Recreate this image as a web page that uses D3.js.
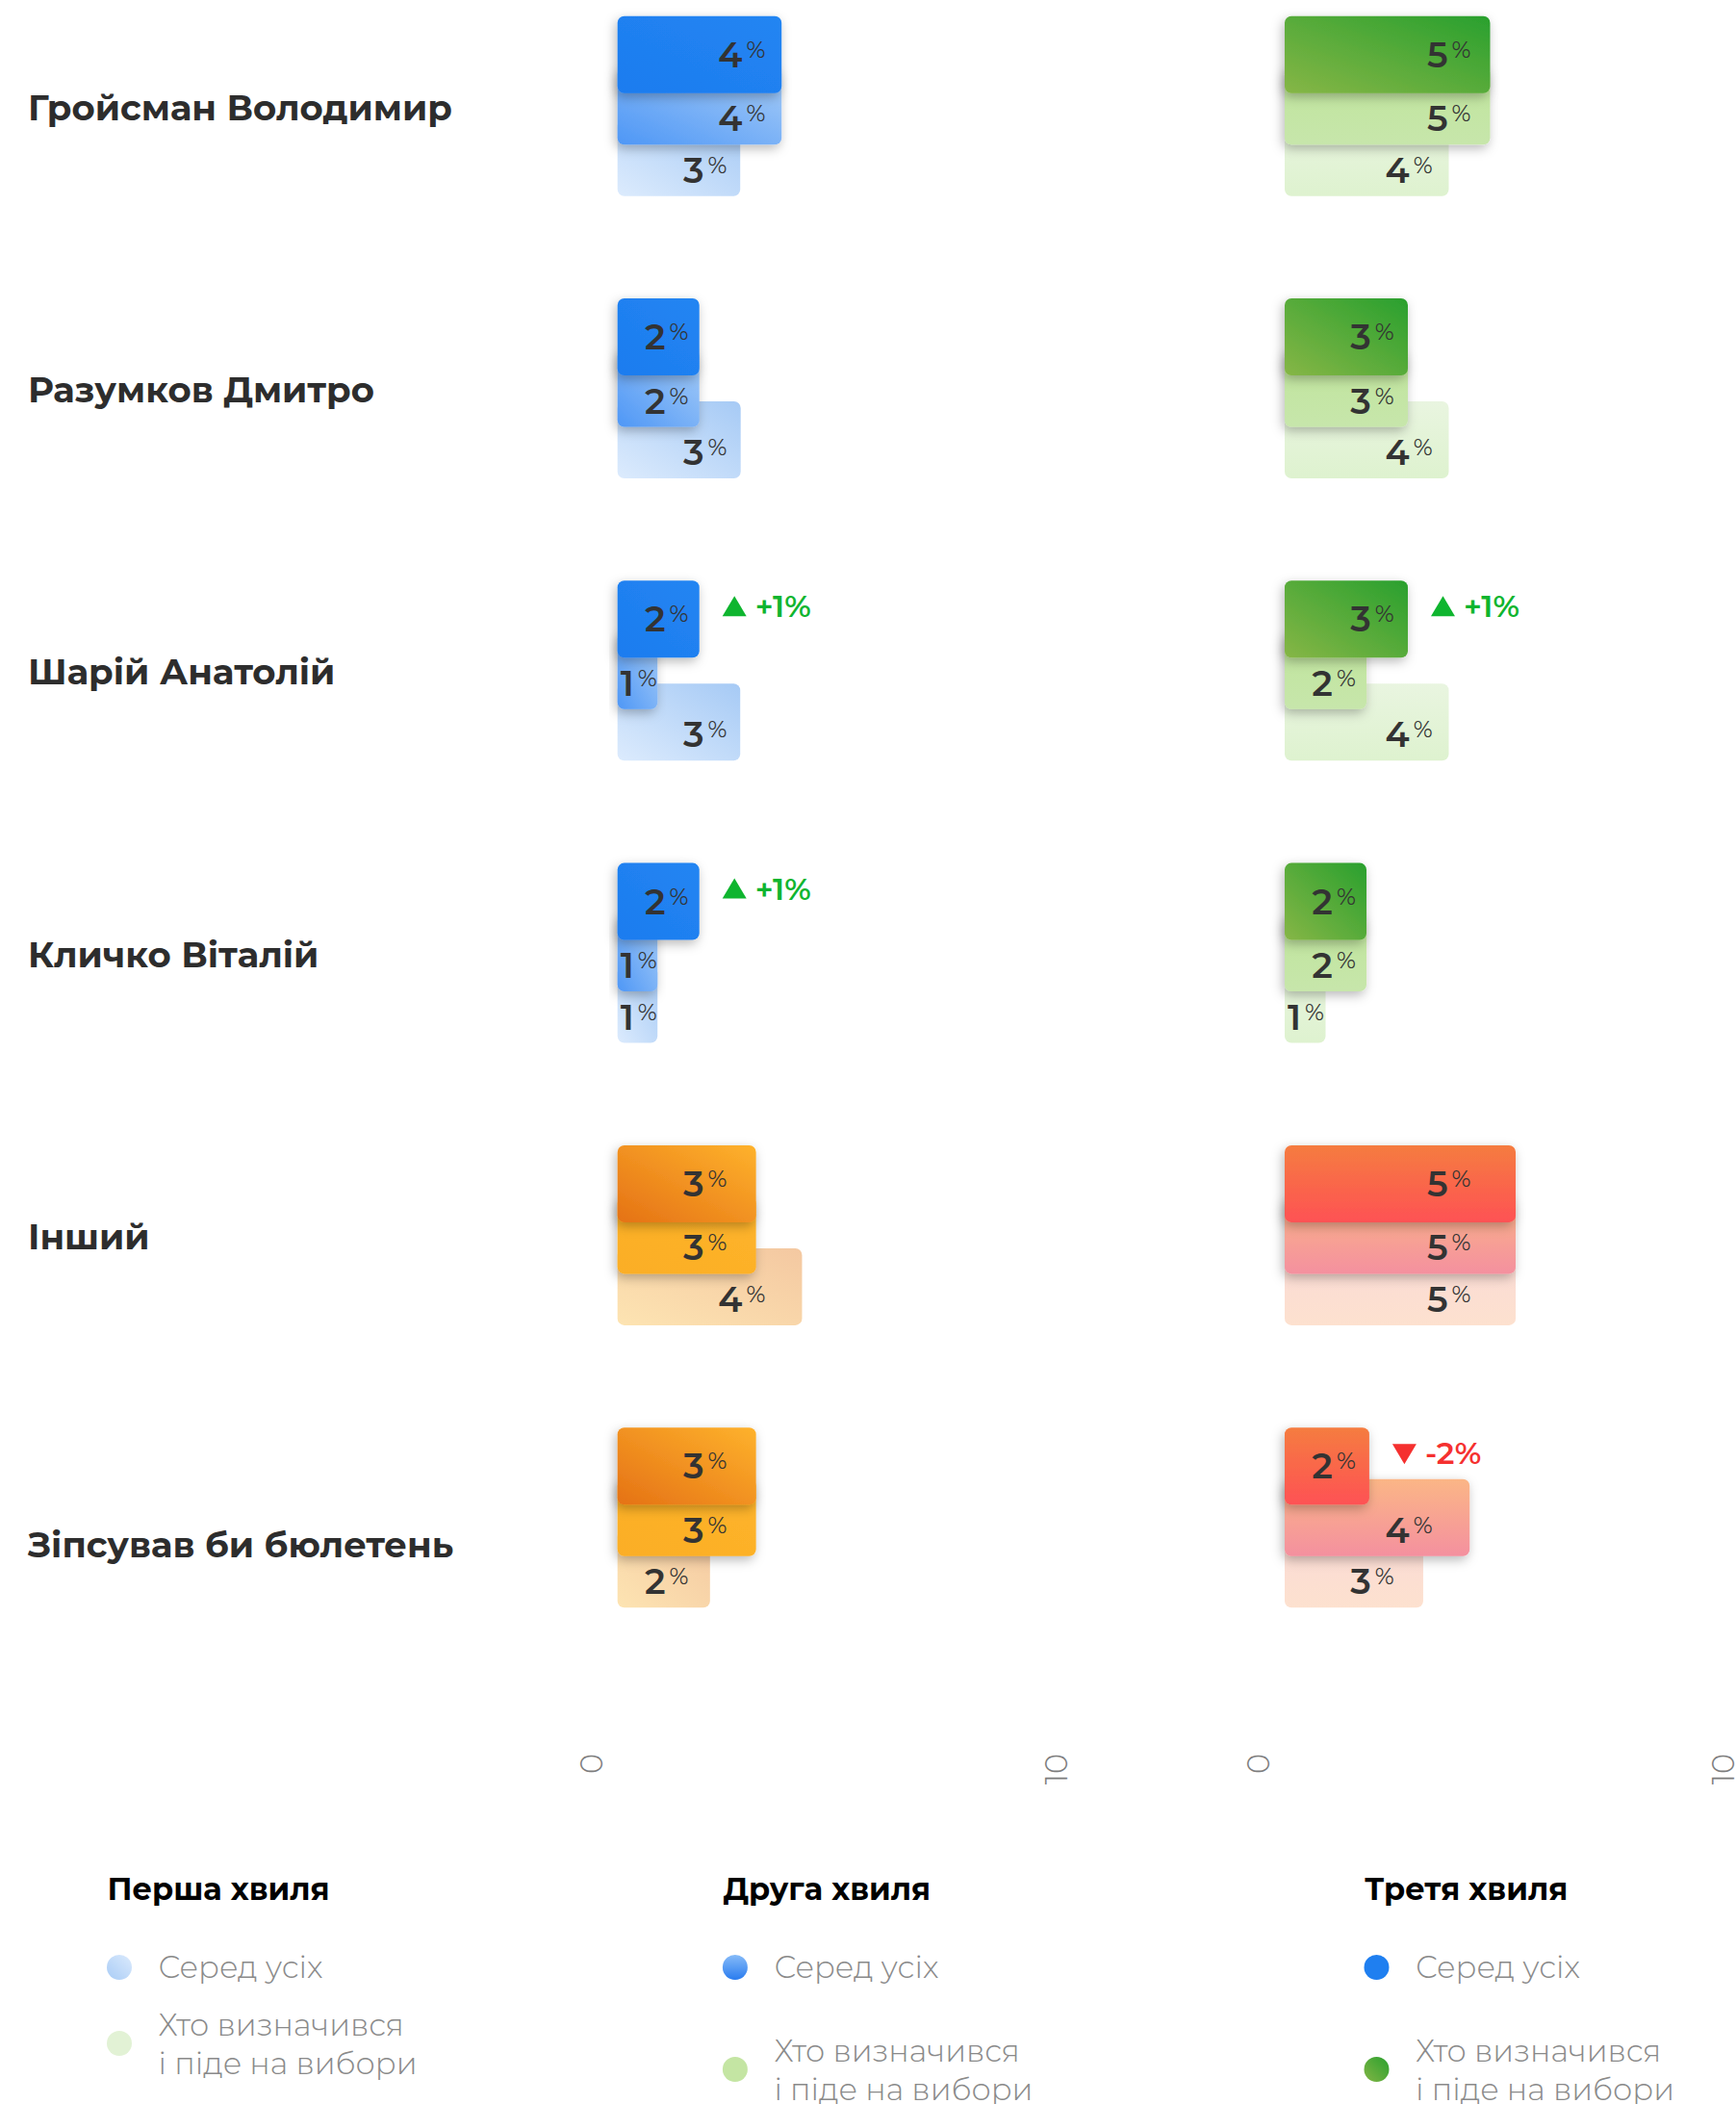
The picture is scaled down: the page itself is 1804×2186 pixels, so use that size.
<!DOCTYPE html>
<html><head><meta charset="utf-8">
<script src="https://cdn.jsdelivr.net/npm/d3@7"></script>
<style>
html,body{margin:0;padding:0;background:#fff;}
svg{display:block;}
</style></head>
<body>
<svg id="chart" width="1804" height="2186"></svg>
<script>
// ---------- DATA ----------
const categories = ["Гройсман Володимир","Разумков Дмитро","Шарій Анатолій","Кличко Віталій","Інший","Зіпсував би бюлетень"];
const categoryKind = ["candidate","candidate","candidate","candidate","other","other"];
const waves = ["Перша хвиля","Друга хвиля","Третя хвиля"];
// Panel 1: "Серед усіх" (bar lengths, %)
const allWave1 = [2.64, 2.65, 2.64, 0.86, 3.97, 1.99];
const allWave2 = [3.53, 1.76, 0.86, 0.86, 2.98, 2.98];
const allWave3 = [3.53, 1.76, 1.76, 1.76, 2.98, 2.98];
// printed labels, %
const allLabel1 = [3, 3, 3, 1, 4, 2];
const allLabel2 = [4, 2, 1, 1, 3, 3];
const allLabel3 = [4, 2, 2, 2, 3, 3];
// Panel 2: "Хто визначився і піде на вибори"
const decWave1 = [3.53, 3.53, 3.53, 0.88, 4.97, 2.98];
const decWave2 = [4.42, 2.65, 1.76, 1.76, 4.97, 3.98];
const decWave3 = [4.42, 2.65, 2.65, 1.76, 4.97, 1.82];
const decLabel1 = [4, 4, 4, 1, 5, 3];
const decLabel2 = [5, 3, 2, 2, 5, 4];
const decLabel3 = [5, 3, 3, 2, 5, 2];
const axisTicks = [0, 10];
const legendItems = ["Серед усіх", "Хто визначився\nі піде на вибори"];

// ---------- STYLE ----------
const svg = d3.select("#chart");
const defs = svg.append("defs");
const grads = {
  blue3:  {dir:"diag", stops:["#1d7cef","#2285f2"]},
  blue2:  {dir:"diag", stops:["#4e97f6","#a8cdf7"]},
  blue1:  {dir:"diag", stops:["#dcebfd","#a6caf5"]},
  green3: {dir:"diag", stops:["#86b646","#29a02e"]},
  green2: {dir:"v",    stops:["#bfe59b","#c7e6ab"]},
  green1: {dir:"v",    stops:["#e9f5e0","#def2cf"]},
  orange3:{dir:"diag", stops:["#e57215","#feb22c"]},
  orange2:{dir:"diag", stops:["#fbae25","#feb42b"]},
  orange1:{dir:"diag", stops:["#fde4b2","#f4c8a1"]},
  red3:   {dir:"v",    stops:["#f57c40","#fe5254"]},
  red2:   {dir:"v",    stops:["#fbb686","#f4909f"]},
  red1:   {dir:"v",    stops:["#fadad6","#fde1cf"]},
  legB2:  {dir:"v",    stops:["#86bbf8","#2a7cef"]},
  legB1:  {dir:"diag", stops:["#a9ccf6","#dbeafc"]},
  legG3:  {dir:"diag", stops:["#82b545","#2aa02e"]}
};
Object.entries(grads).forEach(([id, g]) => {
  const lg = defs.append("linearGradient").attr("id", id);
  if (g.dir === "diag") lg.attr("x1",0).attr("y1",1).attr("x2",1).attr("y2",0);
  else lg.attr("x1",0).attr("y1",0).attr("x2",0).attr("y2",1);
  lg.append("stop").attr("offset","0%").attr("stop-color", g.stops[0]);
  lg.append("stop").attr("offset","100%").attr("stop-color", g.stops[1]);
});
const f = defs.append("filter").attr("id","shadow").attr("x","-20%").attr("y","-30%").attr("width","140%").attr("height","180%");
f.append("feDropShadow").attr("dx",-2).attr("dy",4).attr("stdDeviation",6)
  .attr("flood-color","#000").attr("flood-opacity",0.28);

const numFont = "'Montserrat','Open Sans','Noto Sans',sans-serif";
const nameFont = "'Montserrat','DejaVu Sans',sans-serif";
const lightFont = "'Montserrat','Lato','Open Sans',sans-serif";

// ---------- SCALES ----------
const x = d3.scaleLinear().domain([0, 10]).range([0, 483]);
const xLabel = d3.scaleLinear().domain([0, 10]).range([-6, 393]);
const y = d3.scaleBand().domain(categories).range([16.7, 16.7 + 293.3 * categories.length]);
const barH = 80, step = 53.5, radius = 7;

// names
svg.append("g").selectAll("text").data(categories).join("text")
  .attr("x", 29)
  .attr("y", (d, i) => y(d) + 95 + (i === categories.length - 1 ? 27 : 0))
  .attr("dy", "0.35em")
  .attr("font-family", nameFont).attr("font-weight", 700).attr("font-size", 37)
  .attr("fill", "#2d2d2d")
  .text(d => d);

const panels = [
  {x0: 641.7, vals: [allWave1, allWave2, allWave3], labels: [allLabel1, allLabel2, allLabel3],
   pal: {candidate: ["blue1","blue2","blue3"], other: ["orange1","orange2","orange3"]}},
  {x0: 1335, vals: [decWave1, decWave2, decWave3], labels: [decLabel1, decLabel2, decLabel3],
   pal: {candidate: ["green1","green2","green3"], other: ["red1","red2","red3"]}}
];

panels.forEach(p => {
  const g = svg.append("g").attr("transform", `translate(${p.x0},0)`);
  categories.forEach((cat, ci) => {
    const top = y(cat);
    const cg = g.append("g");
    [0, 1, 2].forEach(wi => {
      const v = p.vals[wi][ci];
      const lab = p.labels[wi][ci];
      const by = top + (2 - wi) * step;
      cg.append("rect")
        .attr("x", x(0)).attr("y", by)
        .attr("width", x(v) - x(0)).attr("height", barH)
        .attr("rx", radius).attr("ry", radius)
        .attr("fill", `url(#${p.pal[categoryKind[ci]][wi]})`)
        .attr("filter", wi > 0 ? "url(#shadow)" : null);
      const cy = wi === 2 ? by + 40 : by + 53;
      const right = Math.max(xLabel(lab), 41);
      const t = cg.append("text")
        .attr("x", right).attr("y", cy + 13)
        .attr("text-anchor", "end")
        .attr("font-family", numFont).attr("fill", "#333");
      t.append("tspan").attr("font-size", 37).attr("font-weight", 600).text(lab);
      t.append("tspan").attr("font-size", 24).attr("font-weight", 400).attr("dx", 4).attr("dy", -10).text("%");
    });
    // change indicator (wave 3 vs wave 2)
    const delta = p.labels[2][ci] - p.labels[1][ci];
    if (delta !== 0) {
      const ix = x(p.vals[2][ci]) + 24, iy = top + 27;
      const col = delta > 0 ? "#0fb52f" : "#f5302f";
      const tri = delta > 0
        ? `M${ix},${iy+10} L${ix+25},${iy+10} L${ix+12.5},${iy-11} Z`
        : `M${ix},${iy-10} L${ix+25},${iy-10} L${ix+12.5},${iy+11} Z`;
      cg.append("path").attr("d", tri).attr("fill", col);
      cg.append("text").attr("x", ix + 34).attr("y", iy + 11)
        .attr("font-family", numFont).attr("font-size", 32).attr("font-weight", 600)
        .attr("fill", col).text((delta > 0 ? "+" : "") + delta + "%");
    }
  });
  // axis
  const ax = g.append("g").attr("transform", "translate(0,1822)")
    .call(d3.axisBottom(x).tickValues(axisTicks).tickSize(0).tickFormat(d3.format("d")));
  ax.select(".domain").remove();
  ax.selectAll("text")
    .attr("transform", "rotate(-90)")
    .attr("x", 0).attr("y", -16.5).attr("dx", 0).attr("dy", 0)
    .attr("text-anchor", "end")
    .attr("font-family", lightFont).attr("font-weight", 300).attr("font-size", 32)
    .attr("fill", "#7d7d7d");
});

// ---------- LEGEND ----------
const legendCols = [
  {x: 111.5, fills: ["url(#legB1)", "#e2f2d5"], item2y: 2123},
  {x: 751.4, fills: ["url(#legB2)", "#c4e5a3"], item2y: 2150},
  {x: 1418,  fills: ["#1f7ff0", "url(#legG3)"], item2y: 2150}
];
legendCols.forEach((c, i) => {
  const lg = svg.append("g");
  lg.append("text").attr("x", c.x).attr("y", 1963).attr("dy", "0.35em")
    .attr("font-family", nameFont).attr("font-weight", 700).attr("font-size", 32)
    .attr("fill", "#000").text(waves[i]);
  const ys = [2044, c.item2y];
  legendItems.forEach((txt, j) => {
    lg.append("circle").attr("cx", c.x + 12.5).attr("cy", ys[j]).attr("r", 13).attr("fill", c.fills[j]);
    const lines = txt.split("\n");
    const t = lg.append("text").attr("x", c.x + 53)
      .attr("font-family", lightFont).attr("font-weight", 300).attr("font-size", 32)
      .attr("fill", "#8a8a8a");
    lines.forEach((ln, k) => {
      t.append("tspan").attr("x", c.x + 53)
        .attr("y", ys[j] + (lines.length === 1 ? 0 : (k === 0 ? -19 : 21)))
        .attr("dy", "0.35em").text(ln);
    });
  });
});
</script>
</body></html>
